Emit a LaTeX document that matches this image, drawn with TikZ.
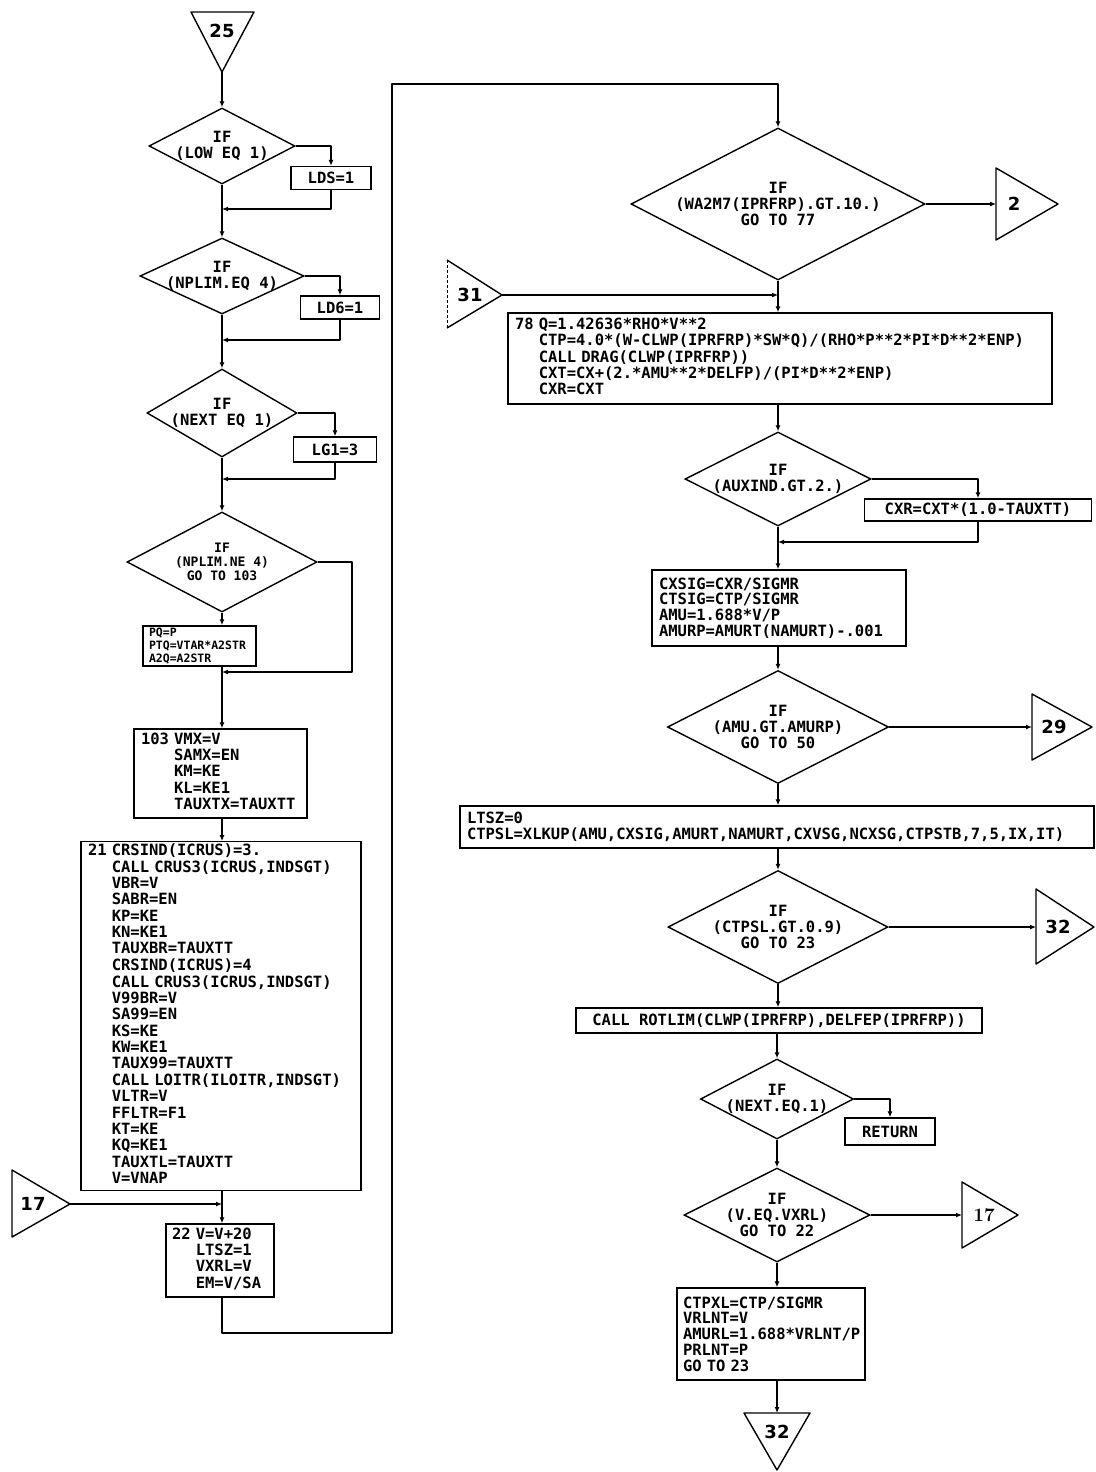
\documentclass[tikz,border=0pt]{standalone}
\usepackage{fontspec}
\newfontfamily\lp{DejaVu Sans Mono}
\newfontfamily\cf{DejaVu Sans}
\usetikzlibrary{shapes.geometric,arrows.meta}
\newcommand\lpf{\lp\bfseries\fontsize{15.5}{15.8}\selectfont}
\newcommand\lpg{\lp\bfseries\fontsize{15.5}{16.3}\selectfont}
\newcommand\lps{\lp\bfseries\fontsize{11.5}{13}\selectfont}
\newcommand\lpd{\lp\bfseries\fontsize{13}{14}\selectfont}
\newcommand\cff{\cf\bfseries\fontsize{18}{20}\selectfont}
\begin{document}
\begin{tikzpicture}[x=1pt,y=-1pt,
 ln/.style={line width=1.4pt, line join=round},
 arr/.style={ln,-{Latex[length=6pt,width=5pt]}},
 box/.style={draw, line width=1.4pt, inner xsep=7pt, inner ysep=2pt, font=\lpf, align=left},
 cbox/.style={draw, line width=1.4pt, inner sep=0pt, font=\lpf, align=center},
 dia/.style={draw, diamond, line width=1.4pt, inner sep=0pt},
 dt/.style={font=\lpf, align=center, inner sep=0pt},
 tl/.style={font=\cff, inner sep=0pt}]
\fill[white] (0,0) rectangle (1095,1472);
\useasboundingbox (0,0) rectangle (1095,1472);

% ---------- coordinates ----------
\coordinate (t25a) at (191,12); \coordinate (t25b) at (254,12); \coordinate (t25c) at (222,72);
\coordinate (t2a) at (996,168); \coordinate (t2b) at (996,240); \coordinate (t2c) at (1058,204); \coordinate (t2in) at (996,204);
\coordinate (t31a) at (447,260); \coordinate (t31c) at (502,295); \coordinate (t31b) at (447,328);
\coordinate (t29a) at (1032,694); \coordinate (t29b) at (1032,760); \coordinate (t29c) at (1092,727); \coordinate (t29in) at (1032,727);
\coordinate (t32a) at (1036,889); \coordinate (t32b) at (1036,964); \coordinate (t32c) at (1094,927); \coordinate (t32in) at (1036,927);
\coordinate (t17la) at (12,1170); \coordinate (t17lb) at (12,1237); \coordinate (t17lc) at (70,1204);
\coordinate (t17ra) at (962,1182); \coordinate (t17rb) at (962,1248); \coordinate (t17rc) at (1018,1215); \coordinate (t17rin) at (962,1215);
\coordinate (t32ba) at (744,1413); \coordinate (t32bb) at (810,1413); \coordinate (t32bc) at (777,1470); \coordinate (t32bin) at (777,1413);
\coordinate (j1) at (222,209); \coordinate (j2) at (222,340); \coordinate (j3) at (222,479);
\coordinate (j4) at (222,672); \coordinate (c4) at (352,672); \coordinate (j17) at (222,1204);
\coordinate (lp1) at (222,1333); \coordinate (lp2) at (392,1333); \coordinate (lp3) at (392,84); \coordinate (lp4) at (778,84);
\coordinate (j31) at (778,295); \coordinate (j6) at (778,542);

% ---------- off-page connectors ----------
\draw[ln] (t25a) -- (t25b) -- (t25c) -- cycle; \node[tl] (l25) at (222,31) {25};
\draw[ln] (t2a) -- (t2c) -- (t2b) -- cycle; \node[tl] (l2) at (1014,204) {2};
\draw[ln] (t31a) -- (t31c) -- (t31b); \draw[line width=0.6pt, densely dashed] (t31a) -- (t31b); \node[tl] (l31) at (470,295) {31};
\draw[ln] (t29a) -- (t29c) -- (t29b) -- cycle; \node[tl] (l29) at (1054,727) {29};
\draw[ln] (t32a) -- (t32c) -- (t32b) -- cycle; \node[tl] (l32) at (1058,927) {32};
\draw[ln] (t17la) -- (t17lc) -- (t17lb) -- cycle; \node[tl] (l17l) at (33,1204) {17};
\draw[ln] (t17ra) -- (t17rc) -- (t17rb) -- cycle; \node[font=\rmfamily\bfseries\fontsize{19}{20}\selectfont, inner sep=0pt] (l17r) at (984,1215) {17};
\draw[ln] (t32ba) -- (t32bb) -- (t32bc) -- cycle; \node[tl] (l32b) at (777,1432) {32};

% ---------- left column ----------
\node[dia, minimum width=146pt, minimum height=76pt] (d1) at (222,146) {};
\node[dt] (d1t) at (d1) {IF\\(LOW EQ 1)};
\node[cbox, minimum width=80pt, minimum height=23pt] (lds) at (331,178) {LDS=1};
\node[dia, minimum width=164pt, minimum height=76pt] (d2) at (222,276) {};
\node[dt] (d2t) at (d2) {IF\\(NPLIM.EQ 4)};
\node[cbox, minimum width=79pt, minimum height=23pt] (ld6) at (340,307.5) {LD6=1};
\node[dia, minimum width=150pt, minimum height=88pt] (d3) at (222,413) {};
\node[dt] (d3t) at (d3) {IF\\(NEXT EQ 1)};
\node[cbox, minimum width=83pt, minimum height=25pt] (lg1) at (335,449.5) {LG1=3};
\node[dia, minimum width=190pt, minimum height=100pt] (d4) at (222,562) {};
\node[dt, font=\lpd] (d4t) at (d4) {IF\\(NPLIM.NE 4)\\GO TO 103};
\node[box, font=\lps, inner xsep=6pt, text width=101pt, minimum height=40pt] (pq) at (199.5,646) {PQ=P\\PTQ=VTAR*A2STR\\A2Q=A2STR};
\node[box, text width=159pt, minimum height=89pt] (b103) at (220.5,773.5)
 {\begin{tabular}{@{}l@{\ }l@{}}103&VMX=V\\&SAMX=EN\\&KM=KE\\&KL=KE1\\&TAUXTX=TAUXTT\end{tabular}};
\node[box, font=\lpg, text width=266pt, minimum height=346pt] (b21) at (221,1016)
 {\begin{tabular}{@{}l@{\ }l@{}}21&CRSIND(ICRUS)=3.\\
 &CALL CRUS3(ICRUS,INDSGT)\\ &VBR=V\\ &SABR=EN\\ &KP=KE\\ &KN=KE1\\ &TAUXBR=TAUXTT\\
 &CRSIND(ICRUS)=4\\ &CALL CRUS3(ICRUS,INDSGT)\\ &V99BR=V\\ &SA99=EN\\ &KS=KE\\ &KW=KE1\\
 &TAUX99=TAUXTT\\ &CALL LOITR(ILOITR,INDSGT)\\ &VLTR=V\\ &FFLTR=F1\\ &KT=KE\\ &KQ=KE1\\
 &TAUXTL=TAUXTT\\ &V=VNAP\end{tabular}};
\node[box, inner xsep=6pt, text width=96pt, minimum height=73pt] (b22) at (220,1260.5)
 {\begin{tabular}{@{}l@{\ }l@{}}22&V=V+20\\&LTSZ=1\\&VXRL=V\\&EM=V/SA\end{tabular}};

% ---------- right column ----------
\node[dia, minimum width=294pt, minimum height=152pt] (d5) at (778,204) {};
\node[dt] (d5t) at (d5) {IF\\(WA2M7(IPRFRP).GT.10.)\\GO TO 77};
\node[box, text width=530pt, minimum height=91pt] (b78) at (780,358.5)
 {\begin{tabular}{@{}l@{\ }l@{}}78&Q=1.42636*RHO*V**2\\
 &CTP=4.0*(W-CLWP(IPRFRP)*SW*Q)/(RHO*P**2*PI*D**2*ENP)\\
 &CALL DRAG(CLWP(IPRFRP))\\
 &CXT=CX+(2.*AMU**2*DELFP)/(PI*D**2*ENP)\\
 &CXR=CXT\end{tabular}};
\node[dia, minimum width=186pt, minimum height=94pt] (d6) at (778,479) {};
\node[dt] (d6t) at (d6) {IF\\(AUXIND.GT.2.)};
\node[cbox, minimum width=227pt, minimum height=22pt] (cxr) at (978,510) {CXR=CXT*(1.0-TAUXTT)};
\node[box, text width=240pt, minimum height=76pt] (cxsig) at (779,608)
 {CXSIG=CXR/SIGMR\\CTSIG=CTP/SIGMR\\AMU=1.688*V/P\\AMURP=AMURT(NAMURT)-.001};
\node[dia, minimum width=221pt, minimum height=113pt] (d7) at (778,727) {};
\node[dt] (d7t) at (d7) {IF\\(AMU.GT.AMURP)\\GO TO 50};
\node[box, text width=620pt, minimum height=42pt] (ltsz) at (777,827)
 {LTSZ=0\\CTPSL=XLKUP(AMU,CXSIG,AMURT,NAMURT,CXVSG,NCXSG,CTPSTB,7,5,IX,IT)};
\node[dia, minimum width=220pt, minimum height=113pt] (d8) at (778,927) {};
\node[dt] (d8t) at (d8) {IF\\(CTPSL.GT.0.9)\\GO TO 23};
\node[cbox, minimum width=406pt, minimum height=25pt] (rot) at (779,1020.5) {CALL ROTLIM(CLWP(IPRFRP),DELFEP(IPRFRP))};
\node[dia, minimum width=153pt, minimum height=80pt] (d9) at (777,1099) {};
\node[dt] (d9t) at (d9) {IF\\(NEXT.EQ.1)};
\node[cbox, minimum width=90pt, minimum height=27pt] (ret) at (890,1131.5) {RETURN};
\node[dia, minimum width=186pt, minimum height=94pt] (d10) at (777,1215) {};
\node[dt] (d10t) at (d10) {IF\\(V.EQ.VXRL)\\GO TO 22};
\node[box, inner xsep=6pt, text width=176pt, minimum height=92pt] (ctpxl) at (771,1334)
 {CTPXL=CTP/SIGMR\\VRLNT=V\\AMURL=1.688*VRLNT/P\\PRLNT=P\\GO TO 23};

% ---------- connectors: left ----------
\draw[arr] (t25c) -- (d1.north);
\draw[arr] (d1.east) -| (lds.north);
\draw[arr] (lds.south) |- (j1);
\draw[arr] (d1.south) -- (d2.north);
\draw[arr] (d2.east) -| (ld6.north);
\draw[arr] (ld6.south) |- (j2);
\draw[arr] (d2.south) -- (d3.north);
\draw[arr] (d3.east) -| (lg1.north);
\draw[arr] (lg1.south) |- (j3);
\draw[arr] (d3.south) -- (d4.north);
\draw[arr] (d4.east) -| (c4) -- (j4);
\draw[arr] (d4.south) -- (d4.south |- pq.north);
\draw[ln] (d4.south |- pq.south) -- (j4);
\draw[arr] (j4) -- (j4 |- b103.north);
\draw[arr] (j4 |- b103.south) -- (j4 |- b21.north);
\draw[arr] (j4 |- b21.south) -- (j4 |- b22.north);
\draw[arr] (t17lc) -- (j17);
\draw[arr] (j4 |- b22.south) -- (lp1) -- (lp2) -- (lp3) -- (lp4) -- (d5.north);

% ---------- connectors: right ----------
\draw[arr] (d5.east) -- (t2in);
\draw[arr] (t31c) -- (j31);
\draw[arr] (d5.south) -- (d5.south |- b78.north);
\draw[arr] (d5.south |- b78.south) -- (d6.north);
\draw[arr] (d6.east) -| (cxr.north);
\draw[arr] (cxr.south) |- (j6);
\draw[arr] (d6.south) -- (d6.south |- cxsig.north);
\draw[arr] (d6.south |- cxsig.south) -- (d7.north);
\draw[arr] (d7.east) -- (t29in);
\draw[arr] (d7.south) -- (d7.south |- ltsz.north);
\draw[arr] (d7.south |- ltsz.south) -- (d8.north);
\draw[arr] (d8.east) -- (t32in);
\draw[arr] (d8.south) -- (d8.south |- rot.north);
\draw[arr] (d9.north |- rot.south) -- (d9.north);
\draw[arr] (d9.east) -| (ret.north);
\draw[arr] (d9.south) -- (d10.north);
\draw[arr] (d10.east) -- (t17rin);
\draw[arr] (d10.south) -- (d10.south |- ctpxl.north);
\draw[arr] (d10.south |- ctpxl.south) -- (t32bin);
\end{tikzpicture}
\end{document}
